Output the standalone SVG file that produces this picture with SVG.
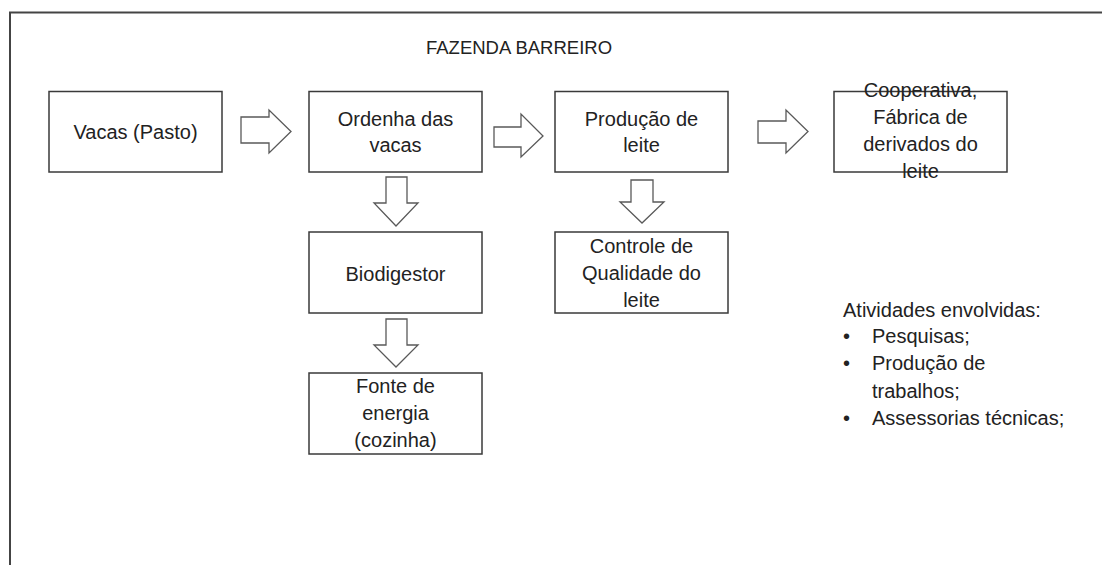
<svg xmlns="http://www.w3.org/2000/svg" width="1102" height="565" viewBox="0 0 1102 565">
<style>
.box{fill:#fff;stroke:#3a3a3a;stroke-width:1.5}
.arr{fill:#fff;stroke:#595959;stroke-width:1.3;stroke-linejoin:miter}
.t{font-family:"Liberation Sans",Arial,sans-serif;font-size:20px;fill:#222;text-anchor:middle}
.tl{font-family:"Liberation Sans",Arial,sans-serif;font-size:20px;fill:#222}
</style>
<rect width="1102" height="565" fill="#fff"/>
<g id="frame"><path d="M10,565 V12.5 H1102" fill="none" stroke="#444" stroke-width="2"/></g>
<text id="title" class="tl" x="426" y="54" font-size="18.5" style="font-size:18.5px">FAZENDA BARREIRO</text>
<g id="connectors">
<polygon class="arr" points="241,117 269,117 269,110 291,131.5 269,153 269,143 241,143"/>
<polygon class="arr" points="494,127 521,127 521,114 543,136 521,157 521,147 494,147"/>
<polygon class="arr" points="758,121 786,121 786,110 808,131.5 786,153 786,143 758,143"/>
<polygon class="arr" points="386,177 407,177 407,203 418,203 396,226 374,203 386,203"/>
<polygon class="arr" points="386,319 407,319 407,345 418,345 396,367 374,345 386,345"/>
<polygon class="arr" points="631,180 653,180 653,202 664,202 642,223 620,202 631,202"/>
</g>
<g id="vacas"><rect class="box" x="49" y="91.5" width="173" height="80.5"/><text class="t" x="135.5" y="139">Vacas (Pasto)</text></g>
<g id="ordenha"><rect class="box" x="309" y="91.5" width="173" height="80.5"/><text class="t" x="395.5" y="126">Ordenha das</text><text class="t" x="395.5" y="152">vacas</text></g>
<g id="producao"><rect class="box" x="555" y="91.5" width="173" height="80.5"/><text class="t" x="641.5" y="126">Produção de</text><text class="t" x="641.5" y="152">leite</text></g>
<g id="cooperativa"><rect class="box" x="834" y="91.5" width="173" height="80.5"/><text class="t" x="920.5" y="97">Cooperativa,</text><text class="t" x="920.5" y="124">Fábrica de</text><text class="t" x="920.5" y="151">derivados do</text><text class="t" x="920.5" y="178">leite</text></g>
<g id="biodigestor"><rect class="box" x="309" y="232" width="173" height="81"/><text class="t" x="395.5" y="281">Biodigestor</text></g>
<g id="controle"><rect class="box" x="555" y="232" width="173" height="81"/><text class="t" x="641.5" y="253">Controle de</text><text class="t" x="641.5" y="280">Qualidade do</text><text class="t" x="641.5" y="307">leite</text></g>
<g id="fonte"><rect class="box" x="309" y="373" width="173" height="81"/><text class="t" x="395.5" y="393">Fonte de</text><text class="t" x="395.5" y="420">energia</text><text class="t" x="395.5" y="447">(cozinha)</text></g>
<g id="atividades">
<text class="tl" x="843" y="317">Atividades envolvidas:</text>
<text class="tl" x="843" y="343">•</text><text class="tl" x="872" y="343">Pesquisas;</text>
<text class="tl" x="843" y="370">•</text><text class="tl" x="872" y="370">Produção de</text>
<text class="tl" x="872" y="398">trabalhos;</text>
<text class="tl" x="843" y="425">•</text><text class="tl" x="872" y="425">Assessorias técnicas;</text>
</g>
</svg>
